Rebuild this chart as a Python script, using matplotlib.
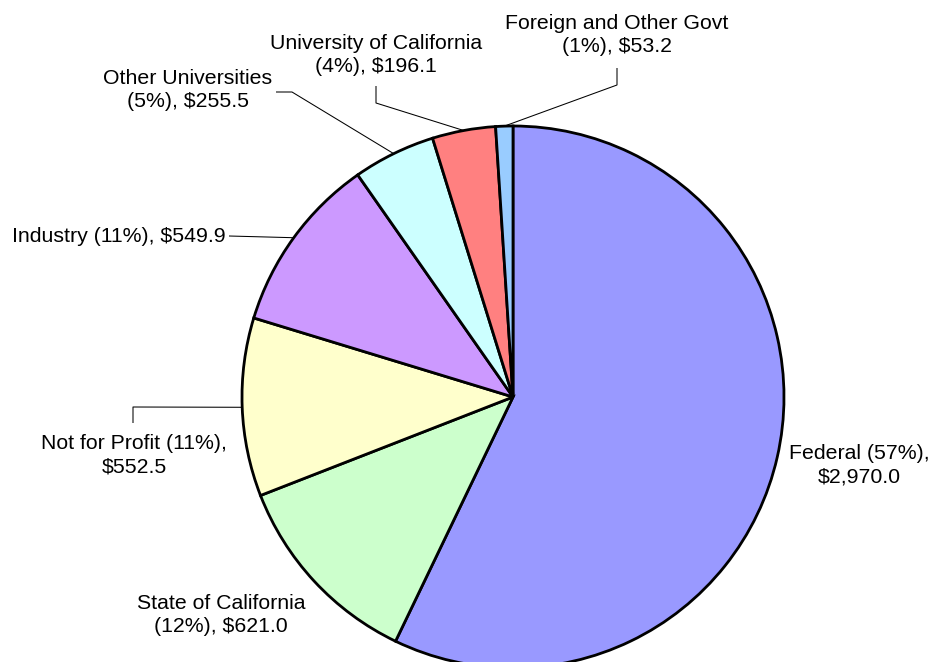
import numpy as np
import matplotlib
matplotlib.use("Agg")
import matplotlib.pyplot as plt

categories = ["Federal", "State of California", "Not for Profit", "Industry",
              "Other Universities", "University of California", "Foreign and Other Govt"]
values = [2970.0, 621.0, 552.5, 549.9, 255.5, 196.1, 53.2]
colors = ["#9999FF", "#CCFFCC", "#FFFFCC", "#CC99FF", "#CCFFFF", "#FF8080", "#99CCFF"]

W, H = 933, 662
plt.rcParams['font.family'] = ['Liberation Sans', 'DejaVu Sans']
fig = plt.figure(figsize=(W / 100, H / 100), dpi=100)
ax = fig.add_axes([0, 0, 1, 1])
ax.set_xlim(0, W)
ax.set_ylim(0, H)
ax.axis('off')

cx, cy_pix, R = 513, 397, 271
wedges, _ = ax.pie(values, colors=colors, startangle=90, counterclock=False,
                   center=(cx, H - cy_pix), radius=R,
                   wedgeprops=dict(edgecolor='black', linewidth=2.0))
ax.set_xlim(0, W)
ax.set_ylim(0, H)
ax.set_aspect('equal')

total = sum(values)
pcts = [v / total * 100 for v in values]

fs = 15.3
layout = {
    0: (f"{categories[0]} ({pcts[0]:.0f}%),\n${values[0]:,.1f}", 859, 465, 'center', None),
    1: (f"{categories[1]}\n({pcts[1]:.0f}%), ${values[1]:,.1f}", 221, 615, 'center', None),
    2: (f"{categories[2]} ({pcts[2]:.0f}%),\n${values[2]:,.1f}", 134, 455, 'center', [(133, 423), (133, 407)]),
    3: (f"{categories[3]} ({pcts[3]:.0f}%), ${values[3]:,.1f}", 226, 236, 'right', [(229, 236)]),
    4: (f"{categories[4]}\n({pcts[4]:.0f}%), ${values[4]:,.1f}", 188, 90, 'center', [(276, 92), (292, 92)]),
    5: (f"{categories[5]}\n({pcts[5]:.0f}%), ${values[5]:,.1f}", 376, 55, 'center', [(376, 86), (376, 103)]),
    6: (f"{categories[6]}\n({pcts[6]:.0f}%), ${values[6]:,.1f}", 617, 35, 'center', [(617, 68), (617, 85)]),
}

for i, w in enumerate(wedges):
    txt, tx, ty, ha, pts = layout[i]
    ax.text(tx, H - ty, txt, ha=ha, va='center', fontsize=fs, linespacing=1.27)
    if pts is not None:
        mid = np.deg2rad((w.theta1 + w.theta2) / 2)
        ax_pt = (cx + R * np.cos(mid), (H - cy_pix) + R * np.sin(mid))
        xs = [p[0] for p in pts] + [ax_pt[0]]
        ys = [H - p[1] for p in pts] + [ax_pt[1]]
        ax.plot(xs, ys, color='black', linewidth=0.75, solid_capstyle='butt')

fig.savefig("out.png", dpi=100)
